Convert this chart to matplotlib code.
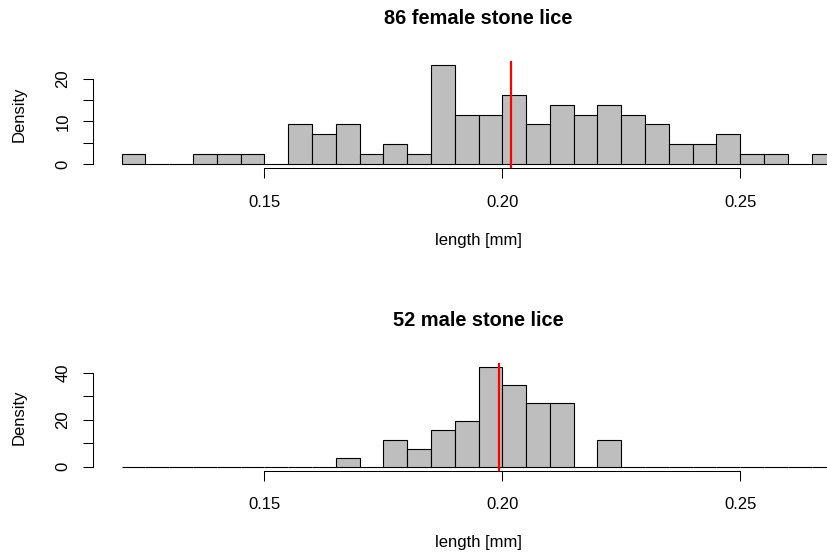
import matplotlib
matplotlib.use("Agg")
import matplotlib.pyplot as plt
import numpy as np

plt.rcParams.update({
    'font.family': ['Liberation Sans', 'DejaVu Sans'],
    'font.size': 12,
    'axes.linewidth': 0.75,
})

# histogram breaks: 0.12 .. 0.27 in steps of 0.005
BIN_LO, BIN_HI, BIN_W = 0.12, 0.27, 0.005

# counts per bin
female_counts = [1, 0, 0, 1, 1, 1, 0, 4, 3, 4, 1, 2, 1, 10, 5,
                 5, 7, 4, 6, 5, 6, 5, 4, 2, 2, 3, 1, 1, 0, 1]
male_counts = [0, 0, 0, 0, 0, 0, 0, 0, 0, 1, 0, 3, 2, 4, 5,
               11, 9, 7, 7, 0, 3, 0, 0, 0, 0, 0, 0, 0, 0, 0]
female_mean = 0.2019
male_mean = 0.1993

panels = [
    ("86 female stone lice", female_counts, female_mean, [0, 5, 10, 15, 20], ["0", "", "10", "", "20"], 0.6984),
    ("52 male stone lice", male_counts, male_mean, [0, 10, 20, 30, 40], ["0", "", "20", "", "40"], 0.1565),
]

fig = plt.figure(figsize=(8.27, 5.58), dpi=100)
edges = np.linspace(BIN_LO, BIN_HI, len(female_counts) + 1)[:-1]

for title, counts, mean, yt, ytl, bottom in panels:
    # plot region runs past the right edge of the picture (cropped like the original)
    ax = fig.add_axes([0.11245, bottom, 0.9323, 0.1927])
    counts = np.array(counts)
    dens = counts / (counts.sum() * BIN_W)
    ax.bar(edges, dens, width=BIN_W, align='edge', color='#BEBEBE',
           edgecolor='black', linewidth=0.8)
    ax.axvline(mean, color='red', lw=1.6)

    ymax = dens.max()
    ax.set_xlim(0.114, 0.276)
    ax.set_ylim(-0.04 * ymax, 1.04 * ymax)

    for s in ['top', 'right']:
        ax.spines[s].set_visible(False)
    ax.spines['bottom'].set_bounds(0.15, 0.25)
    ax.spines['left'].set_bounds(yt[0], yt[-1])

    ax.set_xticks([0.15, 0.20, 0.25])
    ax.set_xticklabels(["0.15", "0.20", "0.25"])
    ax.set_yticks(yt)
    ax.set_yticklabels(ytl, rotation=90, va='center')
    ax.tick_params(length=7.2, width=0.75, pad=12)
    ax.tick_params(axis='y', pad=9)

    ax.set_title(title, fontweight='bold', fontsize=14.4, pad=26.5)
    ax.set_xlabel("length [mm]")
    ax.xaxis.set_label_coords(0.5, -0.60)
    ax.set_ylabel("Density")
    ax.yaxis.set_label_coords(-0.0856, 0.5)

fig.savefig("out.png", dpi=100)
